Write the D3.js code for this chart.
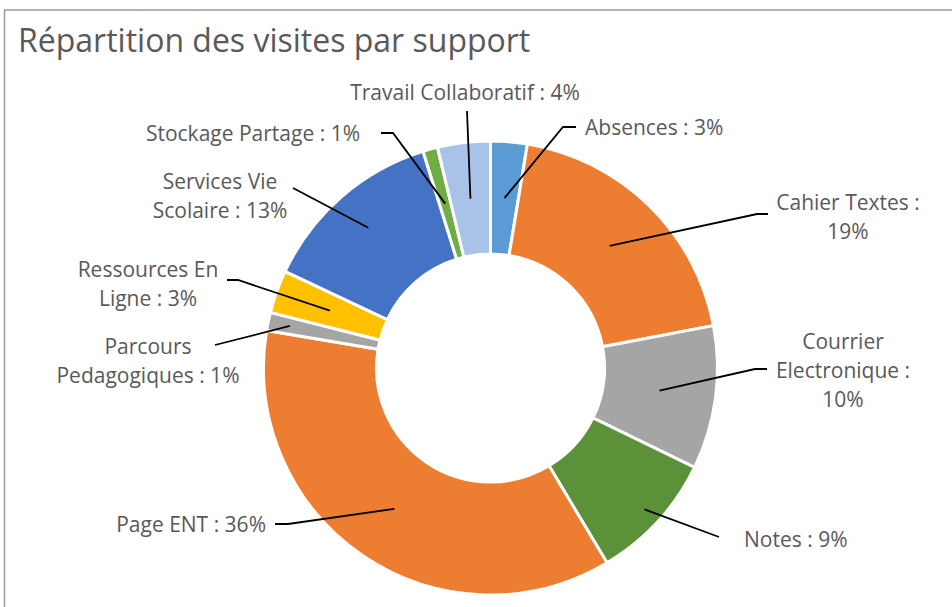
<!DOCTYPE html>
<html>
<head>
<meta charset="utf-8">
<script src="https://cdn.jsdelivr.net/npm/d3@7"></script>
<style>
  body { margin: 0; background: #fff; }
  svg { display: block; font-family: "Open Sans", sans-serif; }
</style>
</head>
<body>
<svg id="chart" width="952" height="607"></svg>
<script>
// Data (in % of visits)
const categories = [
    "Absences", "Cahier Textes", "Courrier Electronique", "Notes", "Page ENT",
    "Parcours Pedagogiques", "Ressources En Ligne", "Services Vie Scolaire",
    "Stockage Partage", "Travail Collaboratif"
];
const visits = [2.6, 19.4, 10.2, 9.2, 36.2, 1.3, 3.05, 13.2, 1.05, 3.75];
const colors = [
    "#5b9bd5", "#ed7d31", "#a5a5a5", "#5b9239", "#ed7d31",
    "#a5a5a5", "#ffc000", "#4472c4", "#70ad47", "#a9c3e8"
];

// label layout: text lines, position, anchor, leader start + horizontal elbow
const labelLayout = [
    { lines: 1, x: 585, y: 128, anchor: "start",  from: [576, 127], elbow: 563 },
    { lines: 2, x: 848, y: 203, anchor: "middle", from: [768, 214], elbow: 757 },
    { lines: 3, x: 843, y: 342, anchor: "middle", from: [767, 369], elbow: 755 },
    { lines: 1, x: 744, y: 540, anchor: "start",  from: [719, 537], lr: 209 },
    { lines: 1, x: 266, y: 525, anchor: "end",    from: [275, 524], elbow: 288 },
    { lines: 2, x: 148, y: 347, anchor: "middle", from: [215, 345], lr: 205 },
    { lines: 2, x: 148, y: 270, anchor: "middle", from: [227, 280], elbow: 238 },
    { lines: 2, x: 220, y: 182, anchor: "middle", from: [293, 188], lr: 186 },
    { lines: 1, x: 360, y: 134, anchor: "end",    from: [381, 133], elbow: 393 },
    { lines: 1, x: 465, y: 93,  anchor: "middle", from: [467, 111] }
];

const svg = d3.select("#chart");
const cx = 490.5, cy = 368;
const outerR = 227, innerR = 114;
const lineH = 29;

// chart area border
svg.append("rect")
    .attr("x", 4.5).attr("y", 10)
    .attr("width", 970).attr("height", 620)
    .attr("fill", "none")
    .attr("stroke", "#9a9a9a")
    .attr("stroke-width", 1.5);

svg.append("text")
    .attr("x", 18).attr("y", 52)
    .attr("font-size", 32)
    .attr("fill", "#595959")
    .text("Répartition des visites par support");

const total = d3.sum(visits);
const pct = d3.format(".0%");

const pie = d3.pie().sort(null).value(d => d);
const arcs = pie(visits);
const arc = d3.arc().innerRadius(innerR).outerRadius(outerR);

const g = svg.append("g").attr("transform", `translate(${cx},${cy})`);

g.selectAll("path")
    .data(arcs)
    .join("path")
    .attr("d", arc)
    .attr("fill", (d, i) => colors[i])
    .attr("stroke", "#fff")
    .attr("stroke-width", 3);

// leader lines
const lines = svg.append("g");
arcs.forEach((d, i) => {
    const L = labelLayout[i];
    const mid = (d.startAngle + d.endAngle) / 2;
    const r = L.lr || (innerR + outerR) / 2;
    const ex = cx + r * Math.sin(mid);
    const ey = cy - r * Math.cos(mid);
    const p = d3.path();
    p.moveTo(L.from[0], L.from[1]);
    if (L.elbow !== undefined) p.lineTo(L.elbow, L.from[1]);
    p.lineTo(ex, ey);
    lines.append("path")
        .attr("d", p.toString())
        .attr("fill", "none")
        .attr("stroke", "#000")
        .attr("stroke-width", 1.8);
});

// label text, wrapped the way the reference does it
function labelLines(name, v, n) {
    const full = name + " : " + pct(v / total);
    if (n === 1) return [full];
    const words = name.split(" ");
    if (n === 3) return [words[0], words[1] + " :", pct(v / total)];
    if (name === "Cahier Textes") return [name + " :", pct(v / total)];
    return [words.slice(0, -1).join(" "), words[words.length - 1] + " : " + pct(v / total)];
}

const labels = svg.append("g")
    .attr("font-size", 21)
    .attr("fill", "#595959");

categories.forEach((name, i) => {
    const L = labelLayout[i];
    const t = labels.append("text")
        .attr("text-anchor", L.anchor);
    labelLines(name, visits[i], L.lines).forEach((s, k) => {
        t.append("tspan")
            .attr("x", L.x)
            .attr("y", L.y + k * lineH)
            .attr("dy", "0.35em")
            .text(s);
    });
});
</script>
</body>
</html>
